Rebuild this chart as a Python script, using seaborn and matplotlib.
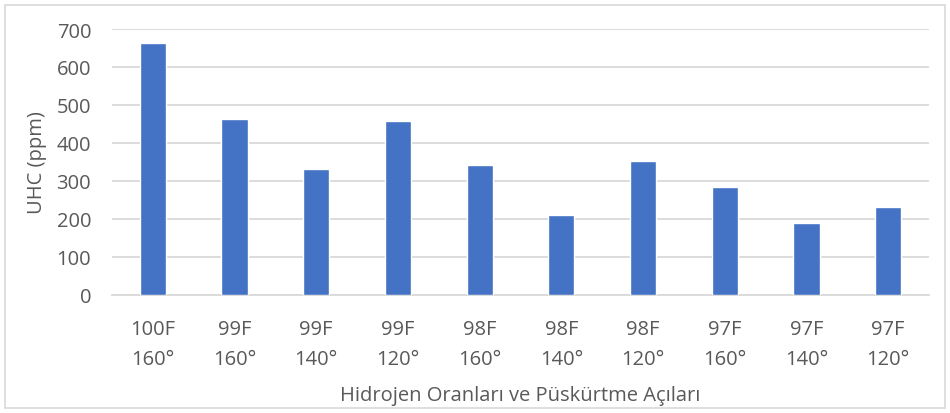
import matplotlib
matplotlib.use("Agg")
import matplotlib.pyplot as plt
from matplotlib.patches import Rectangle
import seaborn as sns
import pandas as pd

# Hydrogen ratio / injection angle combinations and measured UHC
ratios = ["100F", "99F", "99F", "99F", "98F", "98F", "98F", "97F", "97F", "97F"]
angles = ["160°", "160°", "140°", "120°", "160°", "140°", "120°", "160°", "140°", "120°"]
uhc_ppm = [664, 463, 331, 457, 342, 209, 352, 284, 189, 231]
y_ticks = [0, 100, 200, 300, 400, 500, 600, 700]

labels = [f"{r}\n{a}" for r, a in zip(ratios, angles)]
df = pd.DataFrame({"label": labels, "uhc": uhc_ppm})

sns.set_theme(style="white")
plt.rcParams["font.family"] = ["Open Sans", "DejaVu Sans"]

W, H = 950, 414
fig = plt.figure(figsize=(W / 100, H / 100), dpi=100)
ax = fig.add_axes([112 / W, 1 - 295.5 / H, (929 - 112) / W, (295.5 - 30) / H])

text_color = "#595959"
grid_color = "#D9D9D9"

sns.barplot(data=df, x="label", y="uhc", color="#4472C4", width=0.32,
            saturation=1, ax=ax, zorder=3)

ax.set_xlim(-0.5, len(labels) - 0.5)
ax.set_ylim(0, 700)
ax.set_yticks(y_ticks)
ax.set_yticklabels([str(t) for t in y_ticks])
ax.yaxis.grid(True, color=grid_color, linewidth=1.3, zorder=0)
ax.set_axisbelow(True)
for s in ["top", "right", "left"]:
    ax.spines[s].set_visible(False)
ax.spines["bottom"].set_color(grid_color)
ax.spines["bottom"].set_linewidth(1.3)
ax.tick_params(axis="both", length=0, colors=text_color)
ax.tick_params(axis="y", labelsize=14.5, pad=15)
ax.tick_params(axis="x", labelsize=14.5, pad=18)
for t in ax.get_xticklabels():
    t.set_linespacing(1.65)

ax.set_xlabel("Hidrojen Oranları ve Püskürtme Açıları", fontsize=14.5,
              color=text_color, labelpad=11)
ax.set_ylabel("UHC (ppm)", fontsize=14.5, color=text_color, labelpad=7)

# Chart area outline
fig.patches.append(Rectangle((5 / W, 5 / H), 940 / W, 403 / H,
                             transform=fig.transFigure, fill=False,
                             edgecolor=grid_color, linewidth=1.2))

fig.savefig("out.png", dpi=100)
